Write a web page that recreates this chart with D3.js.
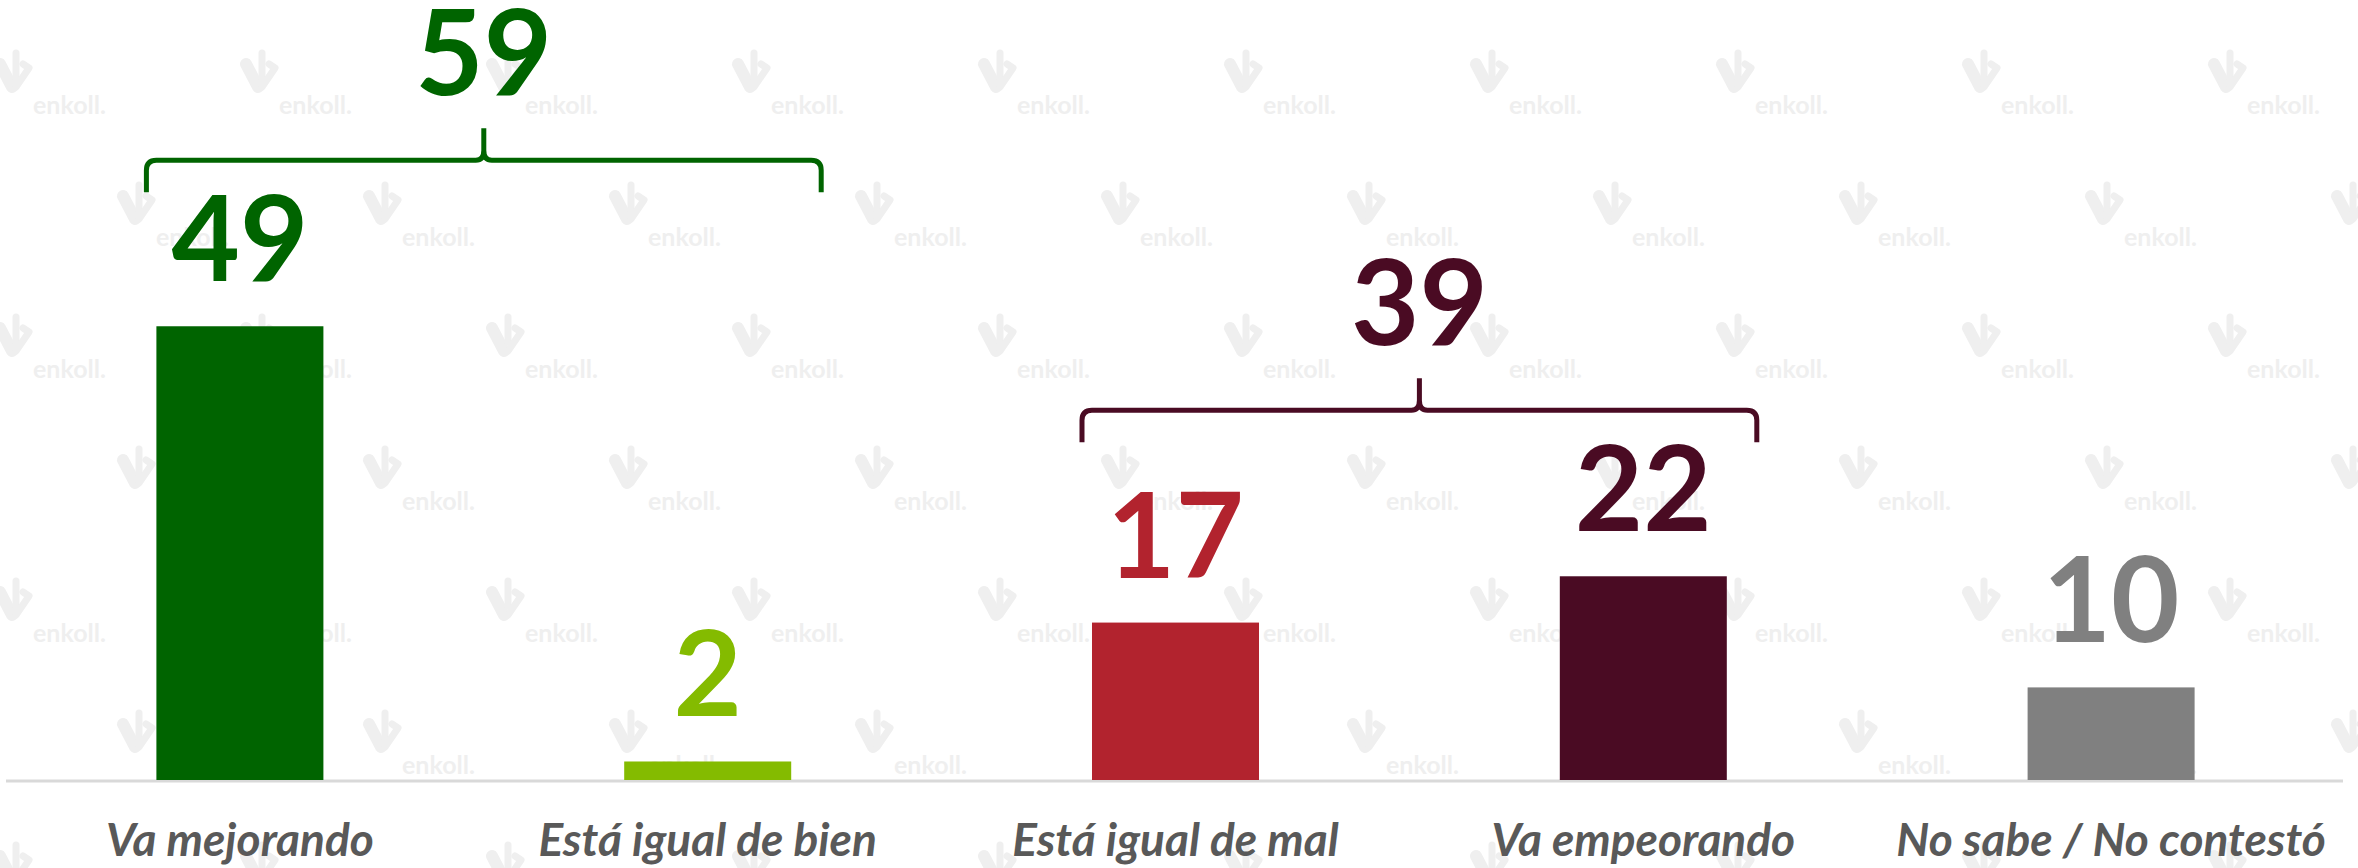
<!DOCTYPE html>
<html>
<head>
<meta charset="utf-8">
<script src="https://cdn.jsdelivr.net/npm/d3@7"></script>
<style>
  html, body { margin: 0; padding: 0; background: #fff; }
  svg { display: block; }
</style>
</head>
<body>
<div id="main"></div>
<script>
// DATA
const categories = ["Va mejorando", "Está igual de bien", "Está igual de mal", "Va empeorando", "No sabe / No contestó"]
const values = [49, 2, 17, 22, 10]
const colors = ["#006400", "#84bb00", "#b2232e", "#4a0b23", "#808080"]
// grouped totals shown over a brace
const groups = [
  {from: 0, to: 1, total: 59, color: "#006400"},
  {from: 2, to: 3, total: 39, color: "#4a0b23"}
]

// SETUP
const width = 2358
const height = 868
const baseY = 780
const wmColor = "#efefef"

const svg = d3.select("#main").append("svg")
  .attr("width", width)
  .attr("height", height)

// SCALES
const x = d3.scaleBand()
  .domain(categories)
  .range([6, 2345])
  .paddingInner(0.643)
  .paddingOuter(0.3215)

const y = d3.scaleLinear()
  .domain([0, 50])
  .range([baseY, 317])

// WATERMARK (logo grid, behind everything)
const wm = svg.append("g").attr("class", "watermark")
for (let r = 0; r < 7; r++) {
  const ty = 114 + r * 132
  const off = (r % 2) ? 123 : 0
  for (let c = 0; c < 11; c++) {
    const tx = 33 + off + c * 246
    const g = wm.append("g").attr("transform", `translate(${tx - 40},${ty - 64})`)
    g.append("path")
      .attr("d", "M7,14 L19,37")
      .attr("stroke", wmColor).attr("stroke-width", 12).attr("stroke-linecap", "round")
    g.append("path")
      .attr("d", "M23,3 L23,28")
      .attr("stroke", wmColor).attr("stroke-width", 7).attr("stroke-linecap", "round")
    g.append("path")
      .attr("d", "M23,37 L36,18 L30,14")
      .attr("fill", "none")
      .attr("stroke", wmColor).attr("stroke-width", 7)
      .attr("stroke-linecap", "round").attr("stroke-linejoin", "round")
    // only words that fit on the page
    if (tx < width - 90 && ty < height) {
      wm.append("text")
        .attr("x", tx)
        .attr("y", ty)
        .attr("font-family", "Lato, sans-serif")
        .attr("font-weight", 700)
        .attr("font-size", 25)
        .attr("fill", wmColor)
        .text("enkoll.")
    }
  }
}

// BASELINE
svg.append("line")
  .attr("x1", 6).attr("x2", 2343)
  .attr("y1", baseY + 1).attr("y2", baseY + 1)
  .attr("stroke", "#d9d9d9")
  .attr("stroke-width", 3)

// BARS
svg.selectAll("rect.bar")
  .data(values)
  .enter().append("rect")
    .attr("class", "bar")
    .attr("x", (d, i) => x(categories[i]))
    .attr("y", d => y(d))
    .attr("width", x.bandwidth())
    .attr("height", d => baseY - y(d))
    .attr("fill", (d, i) => colors[i])

// VALUE LABELS
svg.selectAll("text.val")
  .data(values)
  .enter().append("text")
    .attr("class", "val")
    .attr("x", (d, i) => x(categories[i]) + x.bandwidth() / 2)
    .attr("y", d => y(d) - 45)
    .attr("text-anchor", "middle")
    .attr("font-family", "Lato, sans-serif")
    .attr("font-weight", 700)
    .attr("font-size", 118)
    .attr("fill", (d, i) => colors[i])
    .text(d => d)

// CATEGORY LABELS
svg.selectAll("text.cat")
  .data(categories)
  .enter().append("text")
    .attr("class", "cat")
    .attr("x", d => x(d) + x.bandwidth() / 2)
    .attr("y", 856)
    .attr("text-anchor", "middle")
    .attr("font-family", "Lato, sans-serif")
    .attr("font-weight", 700)
    .attr("font-style", "italic")
    .attr("font-size", 46)
    .attr("fill", "#595959")
    .text(d => d)

// BRACES
function bracePath(x0, x1, yl) {
  const xm = (x0 + x1) / 2
  const h = 32, r = 10
  return `M${x0},${yl + h} L${x0},${yl + r} Q${x0},${yl} ${x0 + r},${yl}` +
    ` L${xm - 8},${yl} Q${xm},${yl} ${xm},${yl - 10} L${xm},${yl - h}` +
    ` M${xm},${yl - 10} Q${xm},${yl} ${xm + 8},${yl} L${x1 - r},${yl}` +
    ` Q${x1},${yl} ${x1},${yl + r} L${x1},${yl + h}`
}

groups.forEach(gr => {
  const top = d3.min(d3.range(gr.from, gr.to + 1), i => y(values[i]))
  const x0 = x(categories[gr.from]) - 10
  const x1 = x(categories[gr.to]) + x.bandwidth() + 30
  const yl = top - 134 - 32
  svg.append("path")
    .attr("d", bracePath(x0, x1, yl))
    .attr("fill", "none")
    .attr("stroke", gr.color)
    .attr("stroke-width", 5)
  svg.append("text")
    .attr("x", (x0 + x1) / 2)
    .attr("y", yl - 32 - 33)
    .attr("text-anchor", "middle")
    .attr("font-family", "Lato, sans-serif")
    .attr("font-weight", 700)
    .attr("font-size", 118)
    .attr("fill", gr.color)
    .text(gr.total)
})
</script>
</body>
</html>
